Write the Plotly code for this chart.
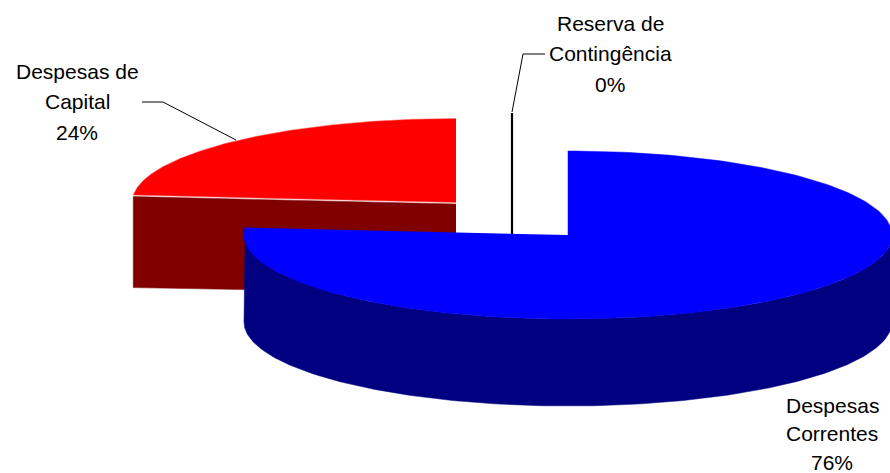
import numpy as np
import plotly.graph_objects as go

# Data
categories = ["Despesas Correntes", "Despesas de Capital", "Reserva de Contingência"]
values = [76.4, 23.6, 0.0]
shown_pct = ["76%", "24%", "0%"]
label_lines = [["Despesas", "Correntes"], ["Despesas de", "Capital"], ["Reserva de", "Contingência"]]

# Picture geometry (pixels in the 890x473 frame)
W, H = 890, 473
A, B, DEPTH = 324, 84, 87
CENTRES = [(568, 235), (456, 202.5), (512, 197)]
TOP = ["#0000FF", "#FF0000", "#000000"]
SIDE = ["#000080", "#800000", "#000000"]
LABEL_POS = [(832, 405), (77, 71), (610, 23)]
LINE_STEPS = [28.5, 30.5, 30.5]
LEADERS = [None, ((142, 163, 236), (102, 102, 140)), ((545, 523, 512), (54, 54, 112))]

# Slice angles measured clockwise from the top of the pie
total = sum(values)
ends = []
running = 0.0
for v in values:
    start = running
    running += 360.0 * v / total
    ends.append((start, running))


def ellipse(c, t0, t1, dy=0.0):
    t = np.radians(np.linspace(t0, t1, 200))
    return c[0] + A * np.sin(t), c[1] - B * np.cos(t) + dy


def poly(x, y, color, line=None):
    return go.Scatter(x=list(x), y=list(y), mode="lines", fill="toself", fillcolor=color,
                      line=dict(color=line or color, width=0.5), hoverinfo="skip", showlegend=False)


fig = go.Figure()

# Capital slice: inner wall, then top face
c = CENTRES[1]
t0, t1 = ends[0][1], 360.0
lx, ly = ellipse(c, t0, t0)
fig.add_trace(poly([c[0], lx[0], lx[0], c[0]],
                   [c[1] + 1.5, ly[0] + 1.5, ly[0] + 1.5 + DEPTH + 4, c[1] + DEPTH + 4],
                   SIDE[1]))
x, y = ellipse(c, t0, t1)
fig.add_trace(poly(np.r_[c[0], x], np.r_[c[1], y], TOP[1], "#FF6060"))

# Reserve slice: zero angle, so only a thin wall is left
c = CENTRES[2]
x, y = ellipse(c, ends[2][0] % 360, ends[2][0] % 360)
fig.add_trace(go.Scatter(x=[c[0], c[0]], y=[y[0], c[1] + DEPTH], mode="lines",
                         line=dict(color="#000000", width=2.2), hoverinfo="skip", showlegend=False))

# Current slice: outer wall, then top face
c = CENTRES[0]
t0, t1 = ends[0]
ux, uy = ellipse(c, 90, t1)
dx, dy = ellipse(c, 90, 270, DEPTH)
fig.add_trace(poly(np.r_[ux, dx[::-1]], np.r_[uy, dy[::-1]], SIDE[0]))
x, y = ellipse(c, t0, t1)
fig.add_trace(poly(np.r_[c[0], x], np.r_[c[1], y], TOP[0]))

# Leader lines
for lead in LEADERS:
    if lead:
        fig.add_trace(go.Scatter(x=list(lead[0]), y=list(lead[1]), mode="lines",
                                 line=dict(color="#000000", width=1), hoverinfo="skip", showlegend=False))

# Labels
annotations = []
for lines, pct, (px, py), step in zip(label_lines, shown_pct, LABEL_POS, LINE_STEPS):
    for i, line in enumerate(lines + [pct]):
        annotations.append(dict(x=px, y=py + i * step, text=line, showarrow=False,
                                xanchor="center", yanchor="middle",
                                font=dict(family="Liberation Sans, Arial, sans-serif", size=21, color="#000000")))

fig.update_layout(
    width=W, height=H, margin=dict(l=0, r=0, t=0, b=0),
    paper_bgcolor="#FFFFFF", plot_bgcolor="#FFFFFF", showlegend=False,
    xaxis=dict(range=[0, W], visible=False, fixedrange=True),
    yaxis=dict(range=[H, 0], visible=False, fixedrange=True),
    annotations=annotations,
)
fig.write_html("out.html", config={"displayModeBar": False},
               post_script="document.body.style.margin='0';document.documentElement.style.overflow='hidden';")
